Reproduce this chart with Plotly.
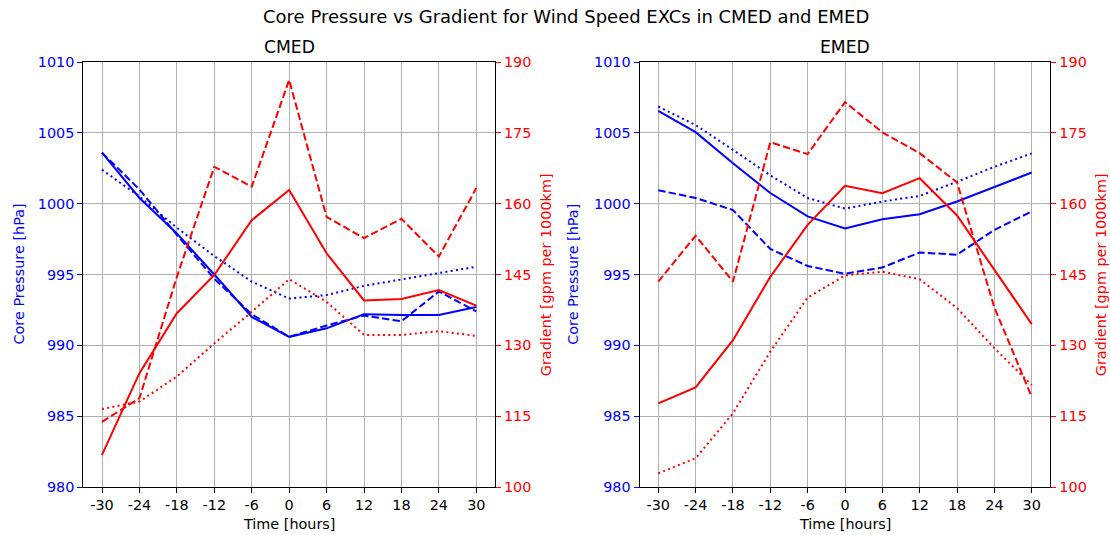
import plotly.graph_objects as go

hours = [-30, -24, -18, -12, -6, 0, 6, 12, 18, 24, 30]
tick_labels = ["-30", "-24", "-18", "-12", "-6", "0", "6", "12", "18", "24", "30"]

# CMED
cmed_p_solid = [1003.6, 1000.4, 997.9, 995.0, 992.0, 990.6, 991.2, 992.2, 992.15, 992.15, 992.7]
cmed_p_dash = [1003.6, 1001.0, 997.8, 994.7, 992.2, 990.6, 991.4, 992.1, 991.7, 993.8, 992.4]
cmed_p_dot = [1002.4, 1000.5, 998.3, 996.3, 994.5, 993.3, 993.55, 994.2, 994.65, 995.1, 995.55]
cmed_g_solid = [106.8, 124.1, 136.8, 144.9, 156.5, 162.9, 149.5, 139.5, 139.8, 141.7, 138.4]
cmed_g_dash = [113.8, 118.8, 144.5, 167.8, 163.6, 186.2, 157.2, 152.7, 156.8, 148.8, 163.3]
cmed_g_dot = [116.5, 118.1, 123.4, 130.4, 137.1, 144.0, 139.2, 132.2, 132.2, 133.0, 132.0]

# EMED
emed_p_solid = [1006.55, 1005.05, 1002.85, 1000.75, 999.1, 998.25, 998.9, 999.25, 1000.15, 1001.2, 1002.2]
emed_p_dash = [1000.95, 1000.4, 999.55, 996.8, 995.6, 995.05, 995.5, 996.55, 996.4, 998.15, 999.45]
emed_p_dot = [1006.85, 1005.55, 1003.8, 1002.0, 1000.4, 999.65, 1000.15, 1000.55, 1001.55, 1002.6, 1003.55]
emed_g_solid = [117.7, 121.1, 131.1, 144.5, 155.5, 163.8, 162.2, 165.4, 157.5, 146.0, 134.5]
emed_g_dash = [143.5, 153.2, 143.5, 173.0, 170.5, 181.5, 175.1, 170.7, 164.5, 138.0, 119.1]
emed_g_dot = [102.9, 106.1, 115.6, 128.7, 140.1, 144.8, 145.6, 144.0, 137.9, 129.4, 121.6]

p_ticks = [980, 985, 990, 995, 1000, 1005, 1010]
g_ticks = [100, 115, 130, 145, 160, 175, 190]

BLUE = "#0000ff"
RED = "#ff0000"
FONT = "DejaVu Sans"
DASH = "7.4px,3.2px"
DOT = "2px,3.3px"
TICK_SIZE = 14.4
LABEL_SIZE = 14.4

W, H = 1110, 535
fig = go.Figure()

panels = [
    ("x", "y", "y2", [cmed_p_solid, cmed_p_dash, cmed_p_dot], [cmed_g_solid, cmed_g_dash, cmed_g_dot]),
    ("x2", "y3", "y4", [emed_p_solid, emed_p_dash, emed_p_dot], [emed_g_solid, emed_g_dash, emed_g_dot]),
]
styles = ["solid", DASH, DOT]
for xa, ya, ya2, ps, gs in panels:
    for vals, d in zip(ps, styles):
        fig.add_trace(go.Scatter(x=hours, y=vals, xaxis=xa, yaxis=ya, mode="lines",
                                 line=dict(color=BLUE, width=2, dash=d), showlegend=False))
    for vals, d in zip(gs, styles):
        fig.add_trace(go.Scatter(x=hours, y=vals, xaxis=xa, yaxis=ya2, mode="lines",
                                 line=dict(color=RED, width=2, dash=d), showlegend=False))

ydom = [(535 - 487) / H, (535 - 62) / H]
xd1 = [83.3 / W, 495.0 / W]
xd2 = [639.6 / W, 1050.4 / W]

def xaxis(dom, anchor):
    return dict(domain=dom, anchor=anchor, range=[-33, 33], tickvals=hours, ticktext=tick_labels,
                showgrid=True, gridcolor="#b0b0b0", gridwidth=1, zeroline=False, automargin=False,
                showline=True, linecolor="black", linewidth=1.1, mirror=True,
                ticks="outside", ticklen=5, tickcolor="black", tickwidth=1,
                tickfont=dict(family=FONT, size=TICK_SIZE, color="black"))

def yleft(anchor):
    return dict(domain=ydom, anchor=anchor, range=[980, 1010], tickvals=p_ticks,
                showgrid=True, gridcolor="#b0b0b0", gridwidth=1, zeroline=False, automargin=False,
                showline=True, linecolor="black", linewidth=1.1,
                ticks="outside", ticklen=5, tickcolor=BLUE, tickwidth=1,
                tickfont=dict(family=FONT, size=TICK_SIZE, color=BLUE))

def yright(anchor, overlay):
    return dict(domain=ydom, anchor=anchor, overlaying=overlay, side="right", range=[100, 190],
                tickvals=g_ticks, showgrid=False, zeroline=False, automargin=False,
                showline=True, linecolor="black", linewidth=1.1,
                ticks="outside", ticklen=5, tickcolor=RED, tickwidth=1,
                tickfont=dict(family=FONT, size=TICK_SIZE, color=RED))

annotations = [
    dict(text="Core Pressure vs Gradient for Wind Speed EXCs in CMED and EMED", x=565.5 / W, y=1 - 16 / H,
         xref="paper", yref="paper", showarrow=False, font=dict(family=FONT, size=18, color="black"),
         xanchor="center", yanchor="middle"),
]
for dom, name, lx, rx in [(xd1, "CMED", 19, 546.7), (xd2, "EMED", 573.3, 1101.7)]:
    cx = (dom[0] + dom[1]) / 2
    annotations.append(dict(text=name, x=cx, y=1 - 47 / H, xref="paper", yref="paper", showarrow=False,
                            font=dict(family=FONT, size=17.2, color="black"), xanchor="center", yanchor="middle"))
    annotations.append(dict(text="Time [hours]", x=cx, y=1 - 524 / H, xref="paper", yref="paper", showarrow=False,
                            font=dict(family=FONT, size=LABEL_SIZE, color="black"), xanchor="center", yanchor="middle"))
    annotations.append(dict(text="Core Pressure [hPa]", x=lx / W, y=(ydom[0] + ydom[1]) / 2, xref="paper", yref="paper",
                            showarrow=False, textangle=-90, font=dict(family=FONT, size=LABEL_SIZE, color=BLUE),
                            xanchor="center", yanchor="middle"))
    annotations.append(dict(text="Gradient [gpm per 1000km]", x=rx / W, y=(ydom[0] + ydom[1]) / 2, xref="paper", yref="paper",
                            showarrow=False, textangle=-90, font=dict(family=FONT, size=LABEL_SIZE, color=RED),
                            xanchor="center", yanchor="middle"))

fig.update_layout(
    width=W, height=H, margin=dict(l=0, r=0, t=0, b=0, pad=0, autoexpand=False),
    paper_bgcolor="white", plot_bgcolor="white",
    xaxis=xaxis(xd1, "y"), xaxis2=xaxis(xd2, "y3"),
    yaxis=yleft("x"), yaxis2=yright("x", "y"),
    yaxis3=yleft("x2"), yaxis4=yright("x2", "y3"),
    annotations=annotations, showlegend=False,
    font=dict(family=FONT),
)

fig.write_html("out.html", config={"displayModeBar": False},
               post_script="document.body.style.margin='0';document.body.style.padding='0';document.body.style.overflow='hidden';")
